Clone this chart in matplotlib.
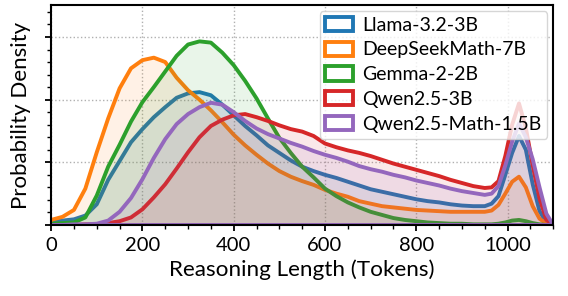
import matplotlib.pyplot as plt
from matplotlib.ticker import MultipleLocator, NullFormatter
from matplotlib.patches import Patch

plt.rcParams["font.family"] = ["Lato", "DejaVu Sans"]
plt.rcParams["font.size"] = 14

# token lengths where the densities were read
lengths = [0, 25, 50, 75, 100, 125, 150, 175, 200, 225, 250, 275, 300, 325, 350,
           375, 400, 425, 450, 475, 500, 525, 550, 575, 600, 625, 650, 675, 700,
           725, 750, 775, 800, 825, 850, 875, 900, 925, 950, 965, 980, 995, 1010,
           1025, 1040, 1055, 1070, 1085, 1100]

# densities in units of 1e-3
llama = [0.06, 0.07, 0.09, 0.15, 0.33, 0.72, 1.02, 1.32, 1.53, 1.72, 1.88, 2.03,
         2.10, 2.12, 2.07, 1.92, 1.75, 1.58, 1.43, 1.27, 1.15, 1.03, 0.93, 0.86,
         0.80, 0.75, 0.69, 0.63, 0.57, 0.53, 0.49, 0.45, 0.41, 0.38, 0.36, 0.33,
         0.31, 0.30, 0.30, 0.34, 0.46, 0.80, 1.15, 1.42, 1.20, 0.65, 0.22, 0.04, 0.0]
deepseek = [0.08, 0.13, 0.24, 0.58, 1.16, 1.70, 2.18, 2.50, 2.63, 2.67, 2.60, 2.35,
            2.15, 2.00, 1.83, 1.64, 1.44, 1.27, 1.12, 0.98, 0.86, 0.77, 0.70, 0.64,
            0.56, 0.50, 0.45, 0.38, 0.34, 0.30, 0.28, 0.26, 0.24, 0.23, 0.22, 0.21,
            0.21, 0.21, 0.21, 0.23, 0.32, 0.50, 0.69, 0.77, 0.60, 0.30, 0.10, 0.02, 0.0]
gemma = [0.02, 0.03, 0.04, 0.12, 0.47, 0.93, 1.28, 1.65, 1.96, 2.20, 2.45, 2.70,
         2.88, 2.93, 2.91, 2.75, 2.55, 2.30, 2.02, 1.70, 1.39, 1.15, 0.93, 0.76,
         0.58, 0.46, 0.36, 0.28, 0.21, 0.16, 0.11, 0.08, 0.06, 0.04, 0.03, 0.02,
         0.02, 0.01, 0.01, 0.01, 0.02, 0.04, 0.07, 0.08, 0.06, 0.03, 0.01, 0.0, 0.0]
qwen = [0.0, 0.0, 0.0, 0.01, 0.01, 0.03, 0.06, 0.12, 0.25, 0.44, 0.65, 0.90,
        1.16, 1.40, 1.58, 1.68, 1.75, 1.77, 1.72, 1.66, 1.59, 1.53, 1.49, 1.42,
        1.30, 1.24, 1.19, 1.15, 1.10, 1.04, 0.98, 0.93, 0.88, 0.83, 0.78, 0.72,
        0.67, 0.62, 0.59, 0.60, 0.70, 1.10, 1.60, 1.94, 1.55, 0.95, 0.42, 0.08, 0.0]
qwen_math = [0.0, 0.0, 0.01, 0.01, 0.02, 0.07, 0.21, 0.43, 0.73, 1.07, 1.37, 1.61,
             1.77, 1.88, 1.95, 1.92, 1.80, 1.66, 1.54, 1.45, 1.38, 1.31, 1.25, 1.18,
             1.12, 1.07, 1.01, 0.94, 0.89, 0.85, 0.80, 0.76, 0.71, 0.67, 0.63, 0.58,
             0.54, 0.51, 0.48, 0.50, 0.62, 0.95, 1.33, 1.62, 1.40, 1.05, 0.60, 0.18, 0.0]

names = ["Llama-3.2-3B", "DeepSeekMath-7B", "Gemma-2-2B", "Qwen2.5-3B", "Qwen2.5-Math-1.5B"]
series = [llama, deepseek, gemma, qwen, qwen_math]
colors = ["#1f77b4", "#ff7f0e", "#2ca02c", "#d62728", "#9467bd"]

fig = plt.figure(figsize=(5.68, 2.96), dpi=100)
ax = fig.add_axes([0.09, 0.24, 0.884, 0.743])

handles = []
for name, ys, c in zip(names, series, colors):
    ax.fill_between(lengths, ys, facecolor=c, alpha=0.1, linewidth=0)
    edge = ax.fill_between(lengths, ys, facecolor="none", edgecolor=c, linewidth=2.8)
    edge.set_joinstyle("round")
    handles.append(Patch(facecolor=(1, 1, 1, 0), edgecolor=c, linewidth=2.8, label=name))

ax.set_xlim(0, 1100)
ax.set_ylim(0, 3.51)
ax.xaxis.set_major_locator(MultipleLocator(200))
ax.xaxis.set_minor_locator(MultipleLocator(50))
ax.yaxis.set_major_locator(MultipleLocator(1))
ax.yaxis.set_minor_locator(MultipleLocator(0.2))
ax.yaxis.set_major_formatter(NullFormatter())
ax.tick_params(which="major", length=4.5, width=1.3, labelsize=14.5, pad=4)
ax.tick_params(which="minor", length=3, width=1.0)
ax.grid(True, which="major", linestyle=":", color="#b0b0b0", linewidth=1)
ax.set_axisbelow(True)
for s in ax.spines.values():
    s.set_linewidth(1.5)

ax.set_xlabel("Reasoning Length (Tokens)", fontsize=16.2, labelpad=4)
ax.set_ylabel("Probability Density", fontsize=16, labelpad=6)
ax.legend(handles=handles, loc="upper right", fontsize=14, handlelength=1.4,
          handleheight=0.75, handletextpad=0.5, labelspacing=0.4,
          borderpad=0.3, borderaxespad=0.3, framealpha=0.8)

fig.savefig("out.png")
